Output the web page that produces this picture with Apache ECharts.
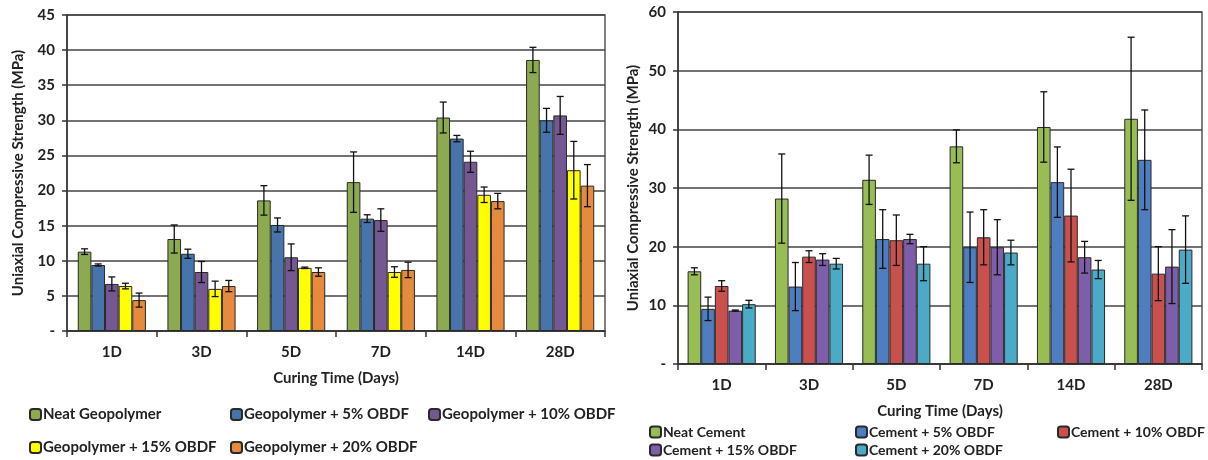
<!DOCTYPE html>
<html>
<head>
    <meta charset="utf-8">
    <title>UCS</title>
    <script src="https://cdn.jsdelivr.net/npm/echarts@6/dist/echarts.min.js"></script>
    <style>
        html, body { margin: 0; padding: 0; background: #fff; }
        #chart { width: 1208px; height: 460px; }
    </style>
</head>
<body>
<div id="chart"></div>
<script>
    var categories = ['1D', '3D', '5D', '7D', '14D', '28D'];

    // geopolymer (left)
    var geoNames = ['Neat Geopolymer', 'Geopolymer + 5% OBDF', 'Geopolymer + 10% OBDF', 'Geopolymer + 15% OBDF', 'Geopolymer + 20% OBDF'];
    var geoColors = ['#8cab50', '#4674ab', '#755892', '#ffff00', '#e68a3e'];
    var geoNeat = [11.3, 13.1, 18.6, 21.2, 30.4, 38.6];
    var geo5 = [9.4, 11.0, 15.1, 16.0, 27.4, 30.0];
    var geo10 = [6.7, 8.4, 10.5, 15.8, 24.1, 30.7];
    var geo15 = [6.4, 6.0, 9.0, 8.4, 19.4, 22.9];
    var geo20 = [4.4, 6.4, 8.4, 8.7, 18.5, 20.7];
    var geoNeatErr = [0.4, 2.0, 2.1, 4.3, 2.2, 1.8];
    var geo5Err = [0.15, 0.65, 1.0, 0.55, 0.45, 1.7];
    var geo10Err = [1.0, 1.5, 1.9, 1.6, 1.5, 2.7];
    var geo15Err = [0.4, 1.1, 0.1, 0.75, 1.1, 4.1];
    var geo20Err = [1.0, 0.8, 0.6, 1.1, 1.1, 3.0];

    // cement (right)
    var cemNames = ['Neat Cement', 'Cement + 5% OBDF', 'Cement + 10% OBDF', 'Cement + 15% OBDF', 'Cement + 20% OBDF'];
    var cemColors = ['#98bd55', '#4e7ec0', '#c9504d', '#7e5ea8', '#4babc6'];
    var cemNeat = [15.8, 28.2, 31.4, 37.1, 40.4, 41.8];
    var cem5 = [9.4, 13.2, 21.3, 19.9, 31.0, 34.8];
    var cem10 = [13.3, 18.3, 21.1, 21.6, 25.3, 15.4];
    var cem15 = [9.1, 17.8, 21.3, 19.9, 18.2, 16.6];
    var cem20 = [10.2, 17.1, 17.1, 19.0, 16.1, 19.5];
    var cemNeatErr = [0.6, 7.6, 4.2, 2.8, 6.0, 13.9];
    var cem5Err = [2.0, 4.1, 5.0, 6.0, 6.0, 8.5];
    var cem10Err = [0.9, 1.0, 4.3, 4.7, 7.9, 4.6];
    var cem15Err = [0.1, 1.0, 0.8, 4.7, 2.7, 6.3];
    var cem20Err = [0.65, 0.9, 2.9, 2.1, 1.55, 5.75];

    var geoValues = [geoNeat, geo5, geo10, geo15, geo20];
    var geoErrors = [geoNeatErr, geo5Err, geo10Err, geo15Err, geo20Err];
    var cemValues = [cemNeat, cem5, cem10, cem15, cem20];
    var cemErrors = [cemNeatErr, cem5Err, cem10Err, cem15Err, cem20Err];

    var FONT = 'Lato';
    var GAP_L = 0.24, GAP_R = 0.22;

    function errorBars(idx, k, vals, errs, gap) {
        return {
            type: 'custom',
            name: 'err' + idx + '_' + k,
            xAxisIndex: idx, yAxisIndex: idx,
            z: 5,
            silent: true,
            data: vals.map(function (v, i) { return [i, v, errs[i]]; }),
            renderItem: function (params, api) {
                var c = api.value(0), v = api.value(1), e = api.value(2);
                var catW = api.size([1, 0])[0];
                var groupW = catW * (1 - gap);
                var barW = groupW / 5;
                var cx = api.coord([c, 0])[0] - groupW / 2 + barW * (k + 0.5);
                var top = api.coord([c, v + e])[1];
                var bot = api.coord([c, v - e])[1];
                var st = { stroke: '#111', lineWidth: 1.3 };
                return {
                    type: 'group',
                    children: [
                        { type: 'line', shape: { x1: cx, y1: top, x2: cx, y2: bot }, style: st },
                        { type: 'line', shape: { x1: cx - 3.5, y1: top, x2: cx + 3.5, y2: top }, style: st },
                        { type: 'line', shape: { x1: cx - 3.5, y1: bot, x2: cx + 3.5, y2: bot }, style: st }
                    ]
                };
            }
        };
    }

    var series = [];
    geoNames.forEach(function (n, k) {
        series.push({
            type: 'bar', name: n, xAxisIndex: 0, yAxisIndex: 0,
            data: geoValues[k], barGap: 0, barCategoryGap: GAP_L * 100 + '%',
            itemStyle: { color: geoColors[k], borderColor: '#2a2a2a', borderWidth: 1 }
        });
    });
    cemNames.forEach(function (n, k) {
        series.push({
            type: 'bar', name: n, xAxisIndex: 1, yAxisIndex: 1,
            data: cemValues[k], barGap: 0, barCategoryGap: GAP_R * 100 + '%',
            itemStyle: { color: cemColors[k], borderColor: '#2a2a2a', borderWidth: 1 }
        });
    });
    geoNames.forEach(function (n, k) { series.push(errorBars(0, k, geoValues[k], geoErrors[k], GAP_L)); });
    cemNames.forEach(function (n, k) { series.push(errorBars(1, k, cemValues[k], cemErrors[k], GAP_R)); });

    function xAxis(idx) {
        return {
            type: 'category', gridIndex: idx, data: categories,
            name: 'Curing Time (Days)', nameLocation: 'middle', nameGap: 40,
            nameTextStyle: { fontFamily: FONT, fontWeight: 'bold', fontSize: 15, color: '#222' },
            axisLine: { lineStyle: { color: '#333', width: 1.5 } },
            axisTick: { show: true, length: 6, lineStyle: { color: '#333', width: 1.5 } },
            axisLabel: { fontFamily: FONT, fontWeight: 'bold', fontSize: 15, color: '#222', margin: 14 }
        };
    }
    function yAxis(idx, max, step, gapName) {
        return {
            type: 'value', gridIndex: idx, min: 0, max: max, interval: step,
            name: 'Uniaxial Compressive Strength (MPa)', nameLocation: 'middle', nameGap: gapName,
            nameTextStyle: { fontFamily: FONT, fontWeight: 'bold', fontSize: 15, color: '#222' },
            axisLine: { show: true, lineStyle: { color: '#333', width: 1.5 } },
            axisTick: { show: true, length: 5, lineStyle: { color: '#333', width: 1.5 } },
            axisLabel: {
                fontFamily: FONT, fontWeight: 'bold', fontSize: 15, color: '#222', margin: 12,
                formatter: function (v) { return v === 0 ? '-' : v; }
            },
            splitLine: { lineStyle: { color: '#444', width: 1.5 } }
        };
    }

    // one legend per entry so that each sits where it does in the picture
    function legendItem(name, left, top, size) {
        return {
            left: left, top: top, padding: 0,
            itemWidth: 11, itemHeight: 11, itemGap: 0, data: [name], selectedMode: false,
            textStyle: { fontFamily: FONT, fontWeight: 'bold', fontSize: size, color: '#222', padding: [0, 0, 0, -3] }
        };
    }

    var myChart = echarts.init(document.getElementById('chart'));
    var option = {
        animation: false,
        grid: [
            { left: 67, top: 15, width: 538, height: 316, show: true, borderColor: '#555', borderWidth: 1.5 },
            { left: 678, top: 12, width: 524, height: 352, show: true, borderColor: '#555', borderWidth: 1.5 }
        ],
        xAxis: [xAxis(0), xAxis(1)],
        yAxis: [yAxis(0, 45, 5, 41), yAxis(1, 60, 10, 37)],
        legend: [
            legendItem(geoNames[0], 29, 407, 15),
            legendItem(geoNames[1], 230, 407, 15),
            legendItem(geoNames[2], 428, 407, 15),
            legendItem(geoNames[3], 29, 440, 15),
            legendItem(geoNames[4], 230, 440, 15),
            legendItem(cemNames[0], 649, 425, 14),
            legendItem(cemNames[1], 855, 425, 14),
            legendItem(cemNames[2], 1057, 425, 14),
            legendItem(cemNames[3], 649, 443, 14),
            legendItem(cemNames[4], 855, 443, 14)
        ],
        series: series
    };
    myChart.setOption(option);
</script>
</body>
</html>
